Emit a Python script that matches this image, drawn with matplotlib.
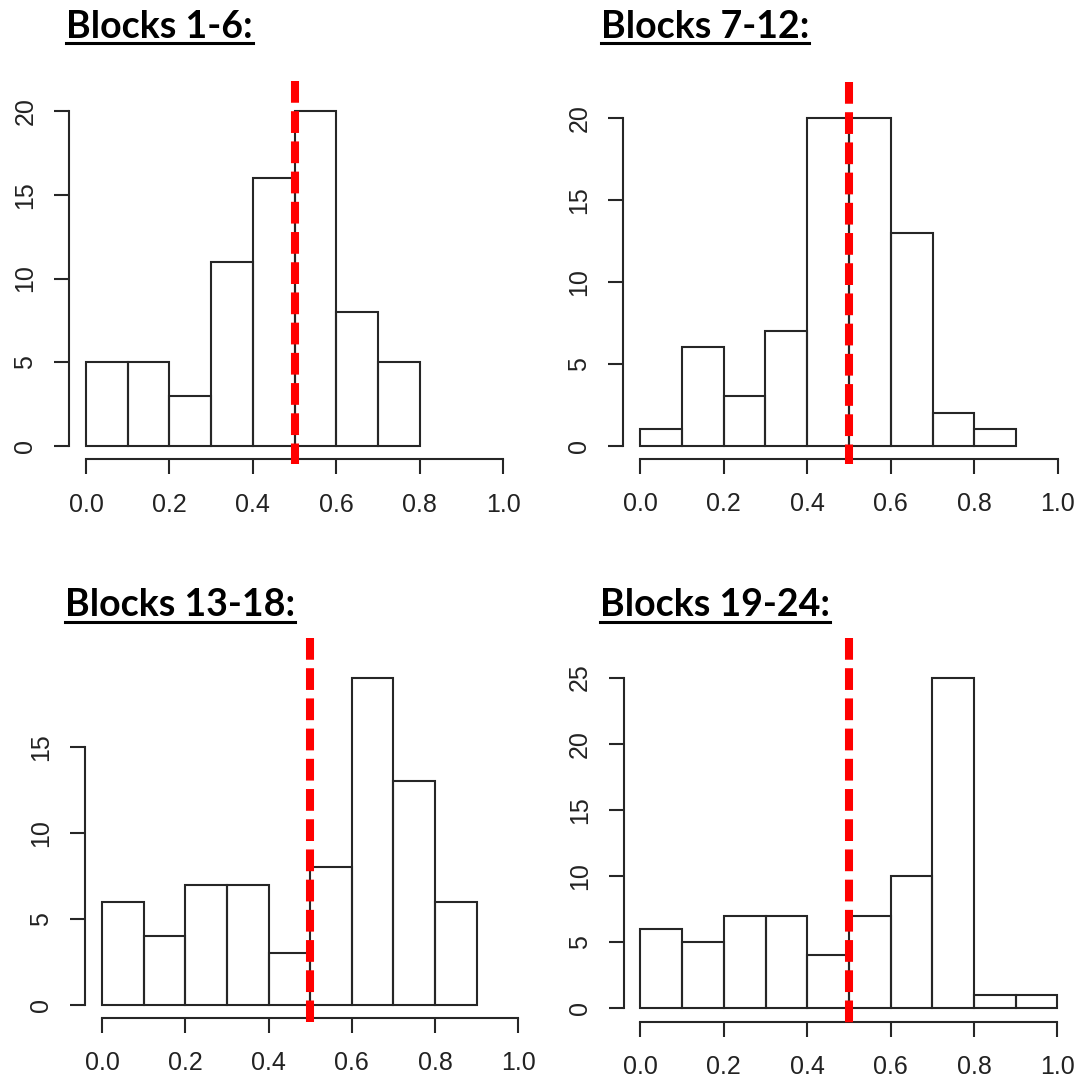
import matplotlib
matplotlib.use("Agg")
import matplotlib.pyplot as plt
import matplotlib.transforms as mtransforms
from matplotlib.lines import Line2D
from matplotlib.ticker import MultipleLocator

# dados: contagens por faixa de 0.1
titulos = ["Blocks 1-6:", "Blocks 7-12:", "Blocks 13-18:", "Blocks 19-24:"]
contagens_1_6 = [5, 5, 3, 11, 16, 20, 8, 5]
contagens_7_12 = [1, 6, 3, 7, 20, 20, 13, 2, 1]
contagens_13_18 = [6, 4, 7, 7, 3, 8, 19, 13, 6]
contagens_19_24 = [6, 5, 7, 7, 4, 7, 10, 25, 1, 1]
largura_bin = 0.1
limiar = 0.5
xticks = [0.0, 0.2, 0.4, 0.6, 0.8, 1.0]

W, H = 1078, 1084
fig = plt.figure(figsize=(W / 100, H / 100), dpi=100)

# caixas dos eixos em pixels: esquerda, topo, direita, base
caixas = [
	(69.3, 97.6, 519.7, 459.4),
	(623.3, 104.6, 1074.7, 458.8),
	(85.4, 665.1, 535.0, 1018.1),
	(623.8, 664.3, 1074.0, 1021.5),
]
# posicao do titulo (x esquerdo, linha de base) e extensao da linha vermelha
titulo_pos = [(66, 37.5), (601, 37.5), (65, 616.5), (600, 616.5)]
linha_vermelha = [(81, 464), (82, 464), (638, 1022), (638, 1025)]

todas = [contagens_1_6, contagens_7_12, contagens_13_18, contagens_19_24]
cor_linha = "#262626"

for i, contagens in enumerate(todas):
	l, t, r, b = caixas[i]
	ax = fig.add_axes([l / W, 1 - b / H, (r - l) / W, (b - t) / H])
	ax.patch.set_alpha(0)
	ymax = max(contagens)
	lefts = [k * largura_bin for k in range(len(contagens))]
	ax.bar(lefts, contagens, width=largura_bin, align="edge", fill=False,
		edgecolor=cor_linha, linewidth=1.5)
	ax.set_xlim(-0.04, 1.04)
	ax.set_ylim(-0.04 * ymax, 1.04 * ymax)

	ax.yaxis.set_major_locator(MultipleLocator(5))
	ax.set_xticks(xticks)
	ax.set_xticklabels(["%.1f" % v for v in xticks])
	topo_tick = 5 * (ymax // 5)
	for lado in ["top", "right"]:
		ax.spines[lado].set_visible(False)
	ax.spines["left"].set_bounds(0, topo_tick)
	ax.spines["bottom"].set_bounds(0, 1)
	for lado in ["left", "bottom"]:
		ax.spines[lado].set_linewidth(1.5)
		ax.spines[lado].set_color(cor_linha)
	ax.tick_params(axis="both", direction="out", length=11, width=1.5,
		color=cor_linha, labelsize=18, labelcolor="#222222")
	ax.tick_params(axis="x", pad=13)
	ax.tick_params(axis="y", pad=12)
	for lab in ax.get_yticklabels():
		lab.set_rotation(90)
		lab.set_va("center")
	for lab in ax.get_xticklabels() + ax.get_yticklabels():
		lab.set_fontfamily("Liberation Sans")

	# linha tracejada vermelha em x = 0.5
	y_top, y_bot = linha_vermelha[i]
	trans = mtransforms.blended_transform_factory(ax.transData, ax.transAxes)
	f_top = (b - y_top) / (b - t)
	f_bot = (b - y_bot) / (b - t)
	ax.plot([limiar, limiar], [f_top, f_bot], transform=trans, color="#ff0000",
		linewidth=5.8, dashes=(2.7, 1.05), clip_on=False, zorder=5,
		solid_capstyle="butt", dash_capstyle="butt")

	# titulo sublinhado
	tx, ty = titulo_pos[i]
	txt = fig.text(tx / W, 1 - ty / H, titulos[i], fontsize=27, fontweight="bold",
		fontfamily="Lato", va="baseline", ha="left", color="black")

fig.canvas.draw()
renderer = fig.canvas.get_renderer()
for txt in fig.texts[:]:
	bb = txt.get_window_extent(renderer)
	y_line = bb.y0 + 1
	fig.add_artist(Line2D([bb.x0 / W, bb.x1 / W], [y_line / H, y_line / H],
		transform=fig.transFigure, color="black", linewidth=2.2))

fig.savefig("out.png", dpi=100)
